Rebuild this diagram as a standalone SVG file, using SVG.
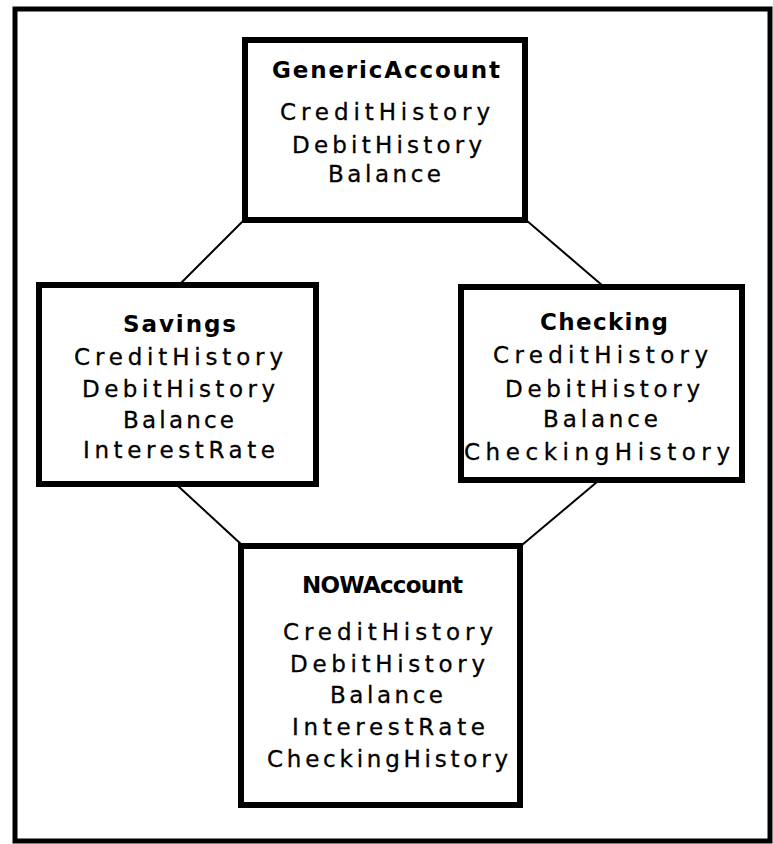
<svg xmlns="http://www.w3.org/2000/svg" width="773" height="844" viewBox="0 0 773 844">
<style>
.frame{fill:none;stroke:#000;stroke-width:5}
.box{fill:#fff;stroke:#000;stroke-width:6}
.conn{stroke:#000;stroke-width:2;fill:none}
text{font-family:"DejaVu Sans","Liberation Sans",sans-serif;font-size:23px;fill:#000;stroke:#000;stroke-width:0.3}
.t{font-weight:bold;stroke-width:0}
</style>
<rect width="773" height="844" fill="#fff"/>
<rect class="frame" x="15" y="9" width="755" height="832"/>
<g id="connectors">
<line class="conn" x1="244" y1="220" x2="180" y2="284"/>
<line class="conn" x1="526" y1="220" x2="603" y2="286"/>
<line class="conn" x1="178" y1="486" x2="242" y2="545"/>
<line class="conn" x1="597" y1="482" x2="522" y2="545"/>
</g>
<g id="GenericAccount">
<rect class="box" x="245" y="40" width="280" height="180"/>
<text class="t" x="272" y="78" textLength="228" lengthAdjust="spacing">GenericAccount</text>
<text x="280" y="120" textLength="210" lengthAdjust="spacing">CreditHistory</text>
<text x="292" y="153" textLength="190" lengthAdjust="spacing">DebitHistory</text>
<text x="328" y="182" textLength="113" lengthAdjust="spacing">Balance</text>
</g>
<g id="Savings">
<rect class="box" x="39" y="285" width="277" height="199"/>
<text class="t" x="123" y="332" textLength="113" lengthAdjust="spacing">Savings</text>
<text x="74" y="365" textLength="209" lengthAdjust="spacing">CreditHistory</text>
<text x="82" y="397" textLength="193" lengthAdjust="spacing">DebitHistory</text>
<text x="123" y="428" textLength="111" lengthAdjust="spacing">Balance</text>
<text x="83" y="458" textLength="192" lengthAdjust="spacing">InterestRate</text>
</g>
<g id="Checking">
<rect class="box" x="461" y="287" width="281" height="193"/>
<text class="t" x="540" y="330" textLength="128" lengthAdjust="spacing">Checking</text>
<text x="493" y="363" textLength="215" lengthAdjust="spacing">CreditHistory</text>
<text x="505" y="397" textLength="195" lengthAdjust="spacing">DebitHistory</text>
<text x="543" y="427" textLength="115" lengthAdjust="spacing">Balance</text>
<text x="464" y="460" textLength="266" lengthAdjust="spacing">CheckingHistory</text>
</g>
<g id="NOWAccount">
<rect class="box" x="241" y="546" width="279" height="259"/>
<text class="t" x="302" y="593" textLength="161" lengthAdjust="spacing">NOWAccount</text>
<text x="283" y="640" textLength="210" lengthAdjust="spacing">CreditHistory</text>
<text x="290" y="672" textLength="195" lengthAdjust="spacing">DebitHistory</text>
<text x="330" y="703" textLength="113" lengthAdjust="spacing">Balance</text>
<text x="292" y="735" textLength="193" lengthAdjust="spacing">InterestRate</text>
<text x="267" y="767" textLength="241" lengthAdjust="spacing">CheckingHistory</text>
</g>
</svg>
